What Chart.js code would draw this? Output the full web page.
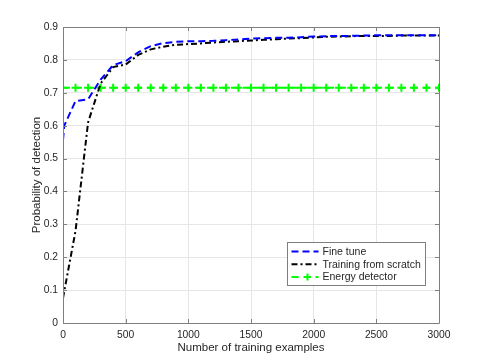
<!DOCTYPE html>
<html>
<head>
<meta charset="utf-8">
<script src="https://cdn.jsdelivr.net/npm/chart.js@4.4.0/dist/chart.umd.min.js"></script>
<style>
    html, body { margin: 0; padding: 0; background: #fff; }
    #wrap { width: 485px; height: 363px; }
</style>
</head>
<body>
<div id="wrap"><canvas id="chart" width="485" height="363"></canvas></div>
<script>
// training set sizes
const fineTuneX = [0, 10, 100, 200, 300, 400, 500, 600, 700, 800, 900, 1000, 1100, 1200, 1300, 1400, 1500,
    1600, 1700, 1800, 1900, 2000, 2100, 2200, 2300, 2400, 2500, 2600, 2700, 2800, 2900, 3000];
const fineTune = [0.557, 0.600, 0.675, 0.680, 0.740, 0.784, 0.796, 0.823, 0.842, 0.851, 0.855, 0.857, 0.857, 0.858, 0.860,
    0.862, 0.865, 0.866, 0.867, 0.867, 0.869, 0.871, 0.872, 0.873, 0.873, 0.874, 0.875, 0.875, 0.875, 0.875, 0.875, 0.875];

const scratchX = [0, 100, 200, 300, 400, 500, 600, 700, 800, 900, 1000, 1100, 1200, 1300, 1400, 1500,
    1600, 1700, 1800, 1900, 2000, 2100, 2200, 2300, 2400, 2500, 2600, 2700, 2800, 2900, 3000];
const scratch = [0.076, 0.280, 0.610, 0.728, 0.778, 0.786, 0.815, 0.832, 0.840, 0.846, 0.848, 0.850, 0.853, 0.855,
    0.857, 0.859, 0.861, 0.863, 0.865, 0.866, 0.868, 0.870, 0.871, 0.872, 0.873, 0.873, 0.873, 0.874, 0.874, 0.874, 0.874];

const energyX = [0, 100, 200, 300, 400, 500, 600, 700, 800, 900, 1000, 1100, 1200, 1300, 1400, 1500,
    1600, 1700, 1800, 1900, 2000, 2100, 2200, 2300, 2400, 2500, 2600, 2700, 2800, 2900, 3000];
const energy = [0.715, 0.715, 0.715, 0.715, 0.715, 0.715, 0.715, 0.715, 0.715, 0.715, 0.715, 0.715, 0.715, 0.715,
    0.715, 0.715, 0.715, 0.715, 0.715, 0.715, 0.715, 0.715, 0.715, 0.715, 0.715, 0.715, 0.715, 0.715, 0.715, 0.715, 0.715];

const xTicks = [0, 500, 1000, 1500, 2000, 2500, 3000];
const yTicks = [0, 0.1, 0.2, 0.3, 0.4, 0.5, 0.6, 0.7, 0.8, 0.9];

const FONT = 'Liberation Sans, Arial, Helvetica, sans-serif';
const TEXT = '#262626';
const AXIS = '#7f7f7f';

function pairs(xs, ys) {
    return xs.map((x, i) => ({x: x, y: ys[i]}));
}

// box round the plot with inward ticks, like matlab
const boxPlugin = {
    id: 'box',
    afterDatasetsDraw(chart) {
        const ctx = chart.ctx;
        const a = chart.chartArea;
        const xs = chart.scales.x, ys = chart.scales.y;
        ctx.save();
        ctx.strokeStyle = AXIS;
        ctx.lineWidth = 1;
        ctx.beginPath();
        ctx.rect(Math.round(a.left) + 0.5, Math.round(a.top) + 0.5, Math.round(a.right - a.left), Math.round(a.bottom - a.top));
        xTicks.forEach(v => {
            const p = Math.round(xs.getPixelForValue(v)) + 0.5;
            ctx.moveTo(p, a.bottom); ctx.lineTo(p, a.bottom - 4);
            ctx.moveTo(p, a.top); ctx.lineTo(p, a.top + 4);
        });
        yTicks.forEach(v => {
            const p = Math.round(ys.getPixelForValue(v)) + 0.5;
            ctx.moveTo(a.left, p); ctx.lineTo(a.left + 4, p);
            ctx.moveTo(a.right, p); ctx.lineTo(a.right - 4, p);
        });
        ctx.stroke();
        ctx.restore();
    }
};

// legend drawn inside the axes
const legendPlugin = {
    id: 'boxLegend',
    afterDraw(chart) {
        const ctx = chart.ctx;
        const left = 287.5, top = 242.5, w = 138, h = 43;
        ctx.save();
        ctx.fillStyle = '#fff';
        ctx.fillRect(left, top, w, h);
        ctx.strokeStyle = AXIS;
        ctx.lineWidth = 1;
        ctx.strokeRect(left, top, w, h);
        ctx.font = '10.5px ' + FONT;
        ctx.textBaseline = 'middle';
        chart.data.datasets.forEach((ds, i) => {
            const y = top + 9 + i * 12.8;
            ctx.strokeStyle = ds.borderColor;
            ctx.lineWidth = 2;
            ctx.setLineDash(ds.borderDash);
            ctx.beginPath();
            ctx.moveTo(left + 4, y);
            ctx.lineTo(left + 31, y);
            ctx.stroke();
            ctx.setLineDash([]);
            if (ds.pointRadius > 0) {
                const cx = left + 20;
                ctx.beginPath();
                ctx.moveTo(cx - 3.5, y); ctx.lineTo(cx + 3.5, y);
                ctx.moveTo(cx, y - 3.5); ctx.lineTo(cx, y + 3.5);
                ctx.stroke();
            }
            ctx.fillStyle = TEXT;
            ctx.fillText(ds.label, left + 35, y + 0.5);
        });
        ctx.restore();
    }
};

new Chart(document.getElementById('chart'), {
    type: 'line',
    data: {
        datasets: [
            {
                label: 'Fine tune',
                data: pairs(fineTuneX, fineTune),
                borderColor: '#0000ff',
                borderWidth: 2,
                borderDash: [7, 4],
                pointRadius: 0,
                tension: 0,
            },
            {
                label: 'Training from scratch',
                data: pairs(scratchX, scratch),
                borderColor: '#000000',
                borderWidth: 2,
                borderDash: [6, 3, 2, 3],
                pointRadius: 0,
                tension: 0,
            },
            {
                label: 'Energy detector',
                data: pairs(energyX, energy),
                borderColor: '#00ff00',
                backgroundColor: '#00ff00',
                borderWidth: 2,
                borderDash: [7, 5],
                pointStyle: 'cross',
                pointRadius: 4,
                pointBorderWidth: 2,
                pointBorderColor: '#00ff00',
                tension: 0,
            }
        ]
    },
    options: {
        responsive: false,
        animation: false,
        layout: {
            padding: {left: 0, right: 46, top: 27, bottom: 0}
        },
        plugins: {
            legend: {display: false},
            tooltip: {enabled: false}
        },
        scales: {
            x: {
                type: 'linear',
                min: 0,
                max: 3000,
                afterFit: scale => { scale.height = 40; },
                afterBuildTicks: scale => { scale.ticks = xTicks.map(v => ({value: v})); },
                border: {display: false},
                grid: {color: '#e6e6e6', drawTicks: false},
                ticks: {
                    color: TEXT,
                    padding: 6,
                    maxRotation: 0,
                    font: {family: FONT, size: 10.3},
                    callback: v => String(v)
                },
                title: {
                    display: true,
                    text: 'Number of training examples',
                    color: TEXT,
                    font: {family: FONT, size: 11.5},
                    padding: {top: 0, bottom: 8}
                }
            },
            y: {
                type: 'linear',
                min: 0,
                max: 0.9,
                afterFit: scale => { scale.width = 63; },
                afterBuildTicks: scale => { scale.ticks = yTicks.map(v => ({value: v})); },
                border: {display: false},
                grid: {color: '#e6e6e6', drawTicks: false},
                ticks: {
                    color: TEXT,
                    padding: 5,
                    font: {family: FONT, size: 10.3},
                    callback: v => String(v)
                },
                title: {
                    display: true,
                    text: 'Probability of detection',
                    color: TEXT,
                    font: {family: FONT, size: 11.5},
                    padding: {top: 30, bottom: 0}
                }
            }
        }
    },
    plugins: [boxPlugin, legendPlugin]
});
</script>
</body>
</html>
